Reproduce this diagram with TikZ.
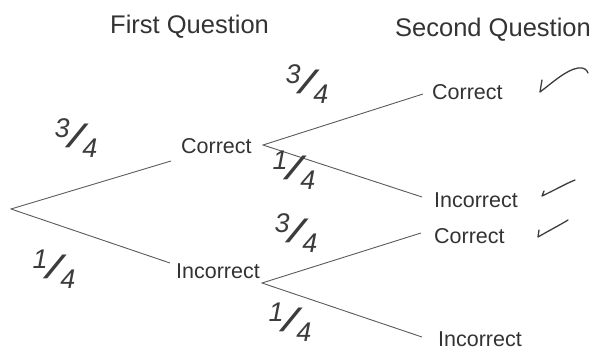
\documentclass[tikz,border=0pt]{standalone}
\usepackage{fontspec}
\setmainfont{Liberation Sans}
\newfontfamily\handfont{Liberation Sans}
\definecolor{ink}{HTML}{333333}
\definecolor{branch}{HTML}{5A5A5A}
\definecolor{pen}{HTML}{3C3C3C}
\newcommand\hwfrac[2]{\raisebox{0.3em}{#1}\kern-0.06em\raisebox{-0.08em}{\scalebox{2.1}[1.2]{/}}\kern-0.06em\raisebox{-0.42em}{#2}}
\begin{document}
\begin{tikzpicture}[x=1pt,y=-1pt,
  head/.style={inner sep=0pt,anchor=base west,text=ink,font=\fontsize{25.5}{26}\selectfont},
  lab/.style={inner sep=0pt,anchor=base west,text=ink,font=\fontsize{21.5}{22}\selectfont},
  frac/.style={inner sep=0pt,text=pen,font=\handfont\itshape\fontsize{27}{27}\selectfont},
  branchline/.style={draw=branch,line width=0.9pt},
  tick/.style={draw=pen,line width=1.3pt,line cap=round,line join=round}]
\useasboundingbox (0,0) rectangle (595,351);
% headings
\node[head] (h1) at (110,33) {First Question};
\node[head] (h2) at (395,36) {Second Question};
% labels
\node[lab] (c1) at (181,153) {Correct};
\node[lab] (i1) at (176,278) {Incorrect};
\node[lab] (cc) at (432,99) {Correct};
\node[lab] (ci) at (434,207) {Incorrect};
\node[lab] (ic) at (434,243) {Correct};
\node[lab] (ii) at (438,346) {Incorrect};
% branch points
\coordinate (root) at (11,209);
\coordinate (c1in) at (171,161);
\coordinate (i1in) at (170,263);
\coordinate (c1out) at (263,145);
\coordinate (i1out) at (262,283);
\coordinate (ccin) at (423,94);
\coordinate (ciin) at (422,197);
\coordinate (icin) at (421,233);
\coordinate (iiin) at (422,337);
% branches
\draw[branchline] (c1in) -- (root) -- (i1in);
\draw[branchline] (ccin) -- (c1out) -- (ciin);
\draw[branchline] (icin) -- (i1out) -- (iiin);
% probabilities
\node[frac] (f1) at (76,138) {\hwfrac{3}{4}};
\node[frac] (f2) at (54,269) {\hwfrac{1}{4}};
\node[frac] (f3) at (307,84) {\hwfrac{3}{4}};
\node[frac] (f4) at (294,170) {\hwfrac{1}{4}};
\node[frac] (f5) at (296,233) {\hwfrac{3}{4}};
\node[frac] (f6) at (290,322) {\hwfrac{1}{4}};
% ticks
\draw[tick] (542,80) -- (540,92) .. controls (552,83) and (566,70) .. (578,68) .. controls (584,67) and (587,70) .. (588,73);
\draw[tick] (544,191) -- (542,196) .. controls (555,190) and (565,184) .. (575,180);
\draw[tick] (539,230) -- (538,237) .. controls (550,230) and (560,225) .. (568,220);
\end{tikzpicture}
\end{document}
